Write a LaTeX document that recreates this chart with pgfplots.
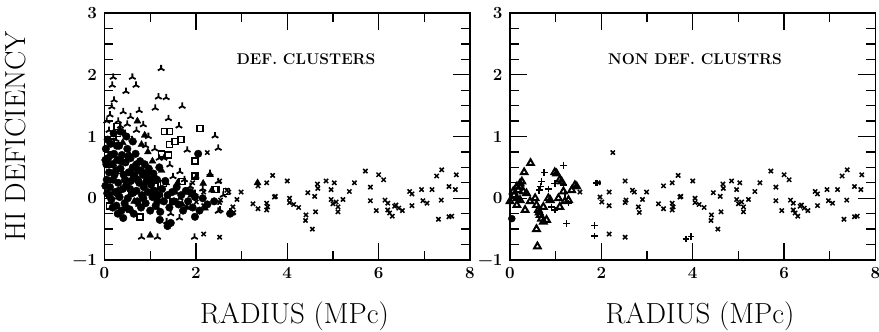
\documentclass[border=0pt]{standalone}
\usepackage{fontspec}
\usepackage{pgfplots}
\pgfplotsset{compat=1.18}
\usepackage{pgfplotstable}
\newcommand{\tl}[1]{\mbox{\fontsize{17}{19}\selectfont\bfseries #1}}

\pgfplotstableread{
x y
1.53 0.10
1.93 0.25
1.97 0.02
2.01 -0.06
2.17 0.10
2.17 -0.12
2.17 -0.58
2.25 0.74
2.52 0.28
2.52 -0.07
2.54 -0.03
2.52 -0.63
2.68 0.13
2.72 0.10
2.81 -0.14
2.83 -0.23
2.90 -0.02
2.99 0.10
3.25 -0.09
3.36 -0.17
3.36 0.20
3.55 0.25
3.68 0.37
3.55 -0.08
3.55 -0.19
3.57 -0.14
3.72 0.02
3.74 0.03
4.00 0.28
4.05 0.00
4.05 -0.07
4.14 -0.10
4.25 -0.15
4.41 -0.27
4.40 -0.36
4.45 0.09
4.55 -0.50
4.60 0.03
4.62 -0.22
4.66 0.23
4.67 0.16
4.85 0.28
4.96 0.14
5.03 0.25
4.96 -0.02
5.00 -0.09
5.07 -0.06
5.11 -0.14
5.11 -0.22
5.22 -0.02
5.36 0.11
5.47 0.25
5.71 0.44
5.82 0.18
5.82 -0.04
5.95 -0.20
6.00 0.38
6.11 0.30
6.14 -0.03
6.20 -0.08
6.20 -0.19
6.24 -0.24
6.30 -0.29
6.35 -0.13
6.38 -0.11
6.44 -0.16
6.52 -0.20
6.68 0.11
6.73 0.07
6.73 -0.12
6.94 0.14
6.97 -0.04
7.06 -0.08
7.17 0.14
7.27 0.36
7.38 0.46
7.37 -0.03
7.31 -0.34
7.54 0.19
7.54 -0.30
7.60 -0.29
7.68 0.14
7.70 0.38
}\crosses

\pgfplotstableread{
x y
0.03 0.80
0.04 0.55
0.05 0.30
0.06 0.08
0.08 0.65
0.10 0.42
0.12 0.18
0.13 0.88
0.15 -0.02
0.17 0.55
0.19 0.30
0.21 0.72
0.23 0.10
0.25 0.45
0.26 -0.12
0.28 0.62
0.30 0.25
0.32 0.85
0.33 0.02
0.35 0.48
0.37 -0.20
0.38 0.70
0.40 0.15
0.42 0.38
0.44 -0.08
0.46 0.58
0.48 0.22
0.50 0.80
0.51 0.00
0.53 0.42
0.55 -0.18
0.57 0.65
0.58 0.28
0.60 0.08
0.62 0.50
0.64 -0.25
0.66 0.35
0.68 0.72
0.70 0.12
0.72 -0.05
0.74 0.45
0.76 0.25
0.78 0.60
0.80 -0.15
0.82 0.05
0.84 0.38
0.86 0.18
0.88 0.55
0.90 -0.08
0.92 0.28
0.95 0.10
0.97 0.48
1.00 -0.20
1.02 0.22
1.05 0.02
1.07 0.40
1.10 0.12
1.12 -0.12
1.15 0.30
1.18 0.05
1.20 0.50
1.22 -0.22
1.26 0.15
1.30 -0.05
1.33 0.28
1.38 0.05
1.42 -0.15
1.48 0.10
1.52 -0.05
1.58 0.18
1.62 -0.10
1.68 0.05
1.72 -0.20
1.78 0.12
1.83 -0.05
1.88 0.10
1.93 -0.15
1.98 0.02
2.05 0.72
2.08 -0.20
2.15 0.00
2.25 -0.10
2.40 -0.05
2.75 -0.25
0.41 -0.32
1.21 -0.35
1.38 -0.45
1.45 -0.40
1.98 -0.30
0.02 0.20
0.07 0.95
0.20 1.05
0.35 1.08
0.48 1.00
0.62 0.92
0.02 0.62
0.10 0.05
0.14 0.70
0.22 0.38
0.27 0.85
0.31 0.12
0.36 0.60
0.45 0.30
0.52 0.68
0.56 0.15
0.63 0.38
0.70 0.55
0.73 0.30
0.80 0.45
0.85 0.00
0.93 0.40
0.99 0.30
1.03 0.10
1.10 0.32
1.16 -0.05
0.18 -0.15
0.29 -0.25
0.47 -0.15
}\leftcircles

\pgfplotstableread{
x y
0.81 0.87
1.00 -0.60
2.31 0.38
0.30 0.05
0.55 0.70
0.65 -0.05
0.85 0.20
1.05 0.60
1.15 -0.15
1.35 0.25
1.55 0.10
1.70 -0.10
1.90 0.05
2.16 0.24
2.20 -0.16
0.95 0.75
0.20 0.55
0.40 0.90
0.75 -0.10
1.25 0.45
2.78 -0.24
1.60 0.25
1.80 -0.15
0.88 1.02
0.72 1.25
2.35 0.13
3.35 0.25
}\lefttri

\pgfplotstableread{
x y
1.24 2.10
0.19 1.96
0.61 1.96
0.69 1.83
0.17 1.83
0.47 1.73
0.21 1.59
1.18 1.64
1.35 1.63
1.11 1.46
1.70 1.49
0.16 1.48
0.41 1.40
0.12 1.35
0.76 1.42
0.57 1.32
1.40 1.29
1.63 1.17
0.35 1.17
0.85 1.19
2.42 1.01
2.49 0.81
1.81 0.78
1.43 0.54
1.65 0.43
2.31 0.40
2.49 0.27
1.64 -0.32
2.49 -0.21
0.81 -0.63
1.16 -0.63
1.97 -0.63
1.36 -0.38
1.98 0.08
1.65 0.00
1.11 -0.14
2.75 -0.22
1.88 0.19
0.96 1.00
0.10 1.10
0.25 0.95
0.45 1.05
0.60 0.95
0.70 1.10
0.90 0.85
1.10 0.80
1.20 0.65
1.30 0.65
1.50 0.35
1.75 0.30
2.00 0.35
2.15 0.15
2.53 -0.19
2.60 0.05
1.45 -0.25
0.55 -0.20
0.05 1.25
0.30 1.25
0.50 1.20
}\lefttripod

\pgfplotstableread{
x y
2.09 1.13
1.31 1.08
1.42 1.08
1.54 0.92
1.67 0.95
1.42 0.87
1.25 0.72
1.40 0.70
1.98 0.60
1.98 0.36
1.69 0.27
2.42 0.14
0.78 -0.30
0.11 -0.13
1.29 0.24
0.27 1.16
0.35 0.45
0.60 0.10
0.90 0.40
1.10 0.20
1.20 0.02
1.50 -0.05
2.44 0.14
2.67 0.11
0.15 0.91
}\leftsq

\pgfplotstableread{
x y
0.45 0.57
0.31 0.42
0.26 0.27
0.22 0.24
0.15 0.19
0.18 0.13
0.07 0.11
0.09 0.05
0.15 0.00
0.22 -0.03
0.36 0.08
0.33 -0.19
0.55 0.00
0.58 -0.11
0.62 -0.19
0.66 -0.27
0.69 -0.33
0.73 -0.38
0.80 -0.35
0.58 -0.50
0.60 -0.78
0.84 0.00
0.88 -0.03
1.06 0.00
1.09 -0.14
0.98 0.42
1.02 0.40
1.09 0.30
1.13 0.27
1.17 0.11
1.20 -0.05
1.28 -0.03
1.35 0.13
1.42 0.21
1.46 0.19
0.00 -0.05
0.44 -0.05
0.15 -0.11
0.73 -0.14
0.64 -0.23
0.29 0.11
0.22 0.19
}\righttri

\pgfplotstableread{
x y
1.17 0.53
0.75 0.42
0.98 0.24
0.69 0.27
0.67 0.19
0.64 0.13
0.91 -0.14
0.98 -0.19
1.20 0.08
1.24 -0.41
1.85 -0.44
1.85 -0.61
1.88 0.25
1.91 0.25
1.17 0.21
1.28 -0.08
0.84 0.15
3.85 -0.66
3.96 -0.62
}\rightplus

\pgfplotsset{
  panel/.style={
    scale only axis,
    width=365.5pt, height=247pt,
    xmin=0, xmax=8, ymin=-1, ymax=3,
    xtick={0,2,4,6,8},
    xticklabels={\tl{0},\tl{2},\tl{4},\tl{6},\tl{8}},
    ytick={-1,0,1,2,3},
    yticklabels={\tl{−1},\tl{0},\tl{1},\tl{2},\tl{3}},
    minor x tick num=1, minor y tick num=3,
    tick align=inside,
    major tick length=17pt, minor tick length=9pt,
    axis line style={line width=1.4pt},
    every tick/.style={line width=1.3pt, black},
    xticklabel style={yshift=-4pt},
    yticklabel style={xshift=-4pt},
    xlabel={RADIUS (MPc)},
    every axis x label/.style={at={(axis description cs:0.52,-0.259)}, anchor=base,
      font=\fontsize{29}{32}\selectfont},
    clip=false,
  },
  crossmark/.style={only marks, mark=x, mark size=3pt, mark options={line width=1.5pt, black}},
  plusmark/.style={only marks, mark=+, mark size=3.3pt, mark options={line width=1.6pt, black}},
}

\begin{document}
\begin{tikzpicture}
\begin{axis}[panel,
  ylabel={HI DEFICIENCY},
  every axis y label/.style={at={(axis description cs:-0.2175,0.5)}, rotate=90, anchor=base,
    font=\fontsize{29}{32}\selectfont},
]
\addplot[only marks, mark=*, mark size=3.8pt, mark options={black, fill=black}] table {\leftcircles};
\addplot[only marks, mark=triangle*, mark size=4pt, mark options={black, fill=black}] table {\lefttri};
\addplot[only marks, mark=square, mark size=3pt, mark options={black, line width=1.6pt}] table {\leftsq};
\addplot[only marks, mark=Mercedes star, mark size=3.8pt, mark options={black, line width=1.8pt}] table {\lefttripod};
\addplot[crossmark] table {\crosses};
\node[font=\fontsize{15.5}{18}\selectfont\bfseries] at (axis cs:4.41,2.26) {DEF.\ CLUSTERS};
\end{axis}
\begin{axis}[panel, at={(405.5pt,0pt)}, anchor=south west]
\addplot[only marks, mark=triangle, mark size=3.8pt, mark options={black, line width=2pt}] table {\righttri};
\addplot[plusmark] table {\rightplus};
\addplot[only marks, mark=*, mark size=3.5pt, mark options={black, fill=black}] coordinates {(0.04,-0.33)};
\addplot[crossmark] table {\crosses};
\node[font=\fontsize{15.5}{18}\selectfont\bfseries] at (axis cs:4.05,2.26) {NON DEF.\ CLUSTRS};
\end{axis}
\pgfresetboundingbox
\useasboundingbox (-104.5pt,-72pt) rectangle (774.5pt,260pt);
\end{tikzpicture}
\end{document}
